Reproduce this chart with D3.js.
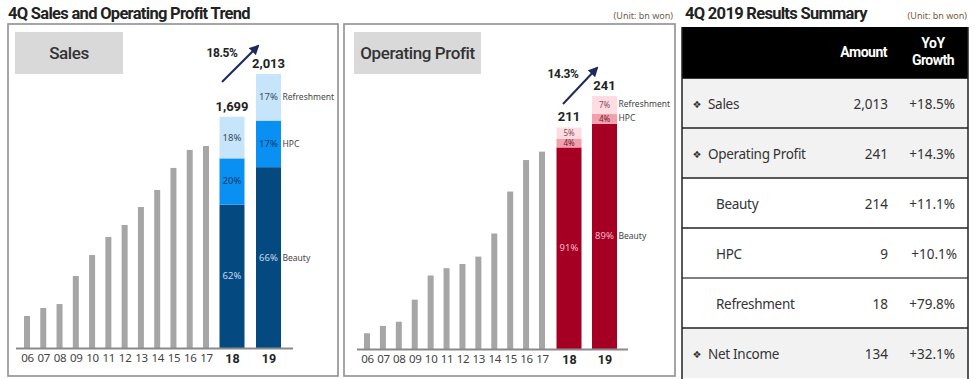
<!DOCTYPE html>
<html><head><meta charset="utf-8">
<script src="https://cdn.jsdelivr.net/npm/d3@7"></script>
<style>
html,body{margin:0;padding:0;background:#fff;}
svg{display:block;font-family:"Noto Sans",sans-serif;}
</style></head>
<body><svg id="c" width="975" height="379"></svg>
<script>
// ---- data ----
const years = ["06","07","08","09","10","11","12","13","14","15","16","17"];
const salesHist = [235,294,323,529,683,816,904,1036,1161,1323,1455,1484];
const opHist = [15,22,26,47,70,77,81,88,110,150,180,188];
const recentYears = ["18","19"];
const salesTotals = [1699,2013];
const opTotals = [211,241];
const segments = ["Beauty","HPC","Refreshment"];
const salesShares = [[62,20,18],[66,17,17]];
const opShares = [[91,4,5],[89,4,7]];
const salesGrowth = "18.5%";
const opGrowth = "14.3%";
const tableLabels = ["Sales","Operating Profit","Beauty","HPC","Refreshment","Net Income"];
const tableAmounts = ["2,013","241","214","9","18","134"];
const tableGrowth = ["+18.5%","+14.3%","+11.1%","+10.1%","+79.8%","+32.1%"];
const tableMain = [true,true,false,false,false,true];

const svg = d3.select("#c");
const titleFont = "Roboto";

// titles
svg.append("text").attr("x",8).attr("y",19).attr("font-size",16.5).attr("font-weight",700).attr("font-family",titleFont)
  .attr("fill","#222").attr("letter-spacing","-0.7").text("4Q Sales and Operating Profit Trend");
svg.append("text").attr("x",673).attr("y",19).attr("text-anchor","end").attr("font-size",9)
  .attr("fill","#6b5e52").text("(Unit: bn won)");
svg.append("text").attr("x",685).attr("y",19).attr("font-size",16.5).attr("font-weight",700).attr("font-family",titleFont)
  .attr("fill","#222").attr("letter-spacing","-0.7").text("4Q 2019 Results Summary");
svg.append("text").attr("x",967).attr("y",19).attr("text-anchor","end").attr("font-size",9)
  .attr("fill","#7a5a3a").text("(Unit: bn won)");

const defs = svg.append("defs");
defs.append("marker").attr("id","arr").attr("viewBox","0 0 10 10").attr("refX",8).attr("refY",5)
  .attr("markerWidth",5).attr("markerHeight",5).attr("orient","auto")
  .append("path").attr("d","M0,0L10,5L0,10z").attr("fill","#1f2a5c");

function panel(cfg){
  const g = svg.append("g").attr("transform",`translate(${cfg.x0},0)`);
  g.append("rect").attr("x",0).attr("y",24).attr("width",cfg.w).attr("height",352)
    .attr("fill","none").attr("stroke","#8f8f8f").attr("stroke-width",1.6);
  g.append("rect").attr("x",cfg.boxX).attr("y",32).attr("width",cfg.boxW).attr("height",42).attr("fill","#d9d9d9");
  g.append("text").attr("x",cfg.boxX+cfg.boxW/2).attr("y",59).attr("text-anchor","middle").attr("font-family",titleFont)
    .attr("font-size",17).attr("font-weight",500).attr("fill","#333").attr("letter-spacing","-0.4").text(cfg.title);

  const y = d3.scaleLinear().domain([0,cfg.yMax]).range([cfg.base,cfg.yTop]);
  const x = d3.scalePoint().domain(years).range(cfg.grayRange);
  const xr = d3.scalePoint().domain(recentYears).range(cfg.recentRange);

  g.selectAll(".gb").data(cfg.hist).join("rect")
    .attr("x",(d,i)=>x(years[i])-3).attr("width",6)
    .attr("y",d=>y(d)).attr("height",d=>cfg.base-y(d)).attr("fill","#a6a6a6");

  const bw = 25;
  cfg.totals.forEach((tot,i)=>{
    const cx = xr(recentYears[i]);
    let acc = 0;
    cfg.shares[i].forEach((s,j)=>{
      const v0 = acc, v1 = acc + tot*s/100; acc = v1;
      g.append("rect").attr("x",cx-bw/2).attr("width",bw).attr("y",y(v1)).attr("height",y(v0)-y(v1))
        .attr("fill",cfg.colors[j]);
      const my = (y(v0)+y(v1))/2;
      g.append("text").attr("x",cx).attr("y",my+3).attr("text-anchor","middle").attr("font-size",cfg.pctSize[j])
        .attr("fill",cfg.textColors[j]).text(s+"%");
      if(i===1){
        g.append("text").attr("x",cx+bw/2+1.5).attr("y",my+3+(cfg.labelShift[j]||0)).attr("font-size",8.5)
          .attr("fill","#444").text(segments[j]);
      }
    });
    g.append("text").attr("x",cx).attr("y",y(tot)-6).attr("text-anchor","middle").attr("font-size",13)
      .attr("font-weight",700).attr("font-family",titleFont).attr("fill","#222").text(d3.format(",")(tot));
  });

  // axis
  const axis = d3.axisBottom(x).tickSize(0).tickPadding(6);
  const ag = g.append("g").attr("transform",`translate(0,${cfg.base})`).call(axis);
  ag.select(".domain").remove();
  ag.selectAll("text").attr("font-size",11.5).attr("fill","#444").attr("font-family","Noto Sans").attr("letter-spacing","-0.3");
  const ag2 = g.append("g").attr("transform",`translate(0,${cfg.base})`).call(d3.axisBottom(xr).tickSize(0).tickPadding(6));
  ag2.select(".domain").remove();
  ag2.selectAll("text").attr("font-size",12.5).attr("font-weight",700).attr("fill","#222").attr("font-family",titleFont);
  g.append("line").attr("x1",cfg.axisX[0]).attr("x2",cfg.axisX[1]).attr("y1",cfg.base+0.5).attr("y2",cfg.base+0.5)
    .attr("stroke","#8a8a8a").attr("stroke-width",2);

  // growth arrow
  g.append("line").attr("x1",cfg.arrow[0]).attr("y1",cfg.arrow[1]).attr("x2",cfg.arrow[2]).attr("y2",cfg.arrow[3])
    .attr("stroke","#1f2a5c").attr("stroke-width",2).attr("marker-end","url(#arr)");
  g.append("text").attr("x",cfg.growthPos[0]).attr("y",cfg.growthPos[1]).attr("text-anchor","middle").attr("font-family",titleFont)
    .attr("font-size",12).attr("font-weight",700).attr("fill","#222").attr("letter-spacing","-0.4").text(cfg.growth);
}

panel({x0:8,w:330,boxX:7,boxW:108,title:"Sales",yMax:2013,base:348,yTop:74,pctSize:[9.5,9.5,9.5],
  hist:salesHist,totals:salesTotals,shares:salesShares,grayRange:[19,198],recentRange:[224,260.5],
  colors:["#044a80","#0a90f2","#c6e4fa"],textColors:["#c5d8ec","#123a66","#3a4a5a"],labelShift:[0,0,0],
  axisX:[8,285],arrow:[214,82,250,46],growthPos:[214,57],growth:salesGrowth});
panel({x0:344,w:331,boxX:10,boxW:127,title:"Operating Profit",yMax:241,yTop:96,base:349,pctSize:[9.5,8,8],
  hist:opHist,totals:opTotals,shares:opShares,grayRange:[23,198],recentRange:[225,260.5],
  colors:["#a50024","#f49fad","#fddde2"],textColors:["#f5b7c3","#6e1a2a","#8a4a58"],labelShift:[0,-1,-1],
  axisX:[13,284],arrow:[219,104,253,68],growthPos:[219,78],growth:opGrowth});

// table
const tx0 = 682, tx1 = 968, hy0 = 27, hy1 = 78, rh = 50;
const tg = svg.append("g");
tg.append("rect").attr("x",tx0).attr("y",hy0).attr("width",tx1-tx0).attr("height",hy1-hy0).attr("fill","#000");
tg.append("text").attr("x",887).attr("y",57).attr("text-anchor","end").attr("font-size",14).attr("font-weight",700)
  .attr("font-family",titleFont).attr("fill","#fff").attr("letter-spacing","-0.5").text("Amount");
tg.append("text").attr("x",933).attr("y",48).attr("text-anchor","middle").attr("font-size",14).attr("font-weight",700)
  .attr("font-family",titleFont).attr("fill","#fff").attr("letter-spacing","-0.5").text("YoY");
tg.append("text").attr("x",933).attr("y",65).attr("text-anchor","middle").attr("font-size",14).attr("font-weight",700)
  .attr("font-family",titleFont).attr("fill","#fff").attr("letter-spacing","-0.5").text("Growth");
const ry = d3.scaleBand().domain(tableLabels).range([hy1,hy1+rh*tableLabels.length]);
const rows = tg.selectAll(".row").data(tableLabels).join("g").attr("transform",d=>`translate(0,${ry(d)})`);
rows.append("rect").attr("x",tx0).attr("width",tx1-tx0).attr("height",ry.bandwidth())
  .attr("fill",(d,i)=>tableMain[i]?"#f2f2f2":"#fff");
rows.append("text").attr("x",(d,i)=>tableMain[i]?708:716).attr("y",31).attr("font-size",13.5).attr("fill","#333")
  .attr("letter-spacing","-0.3").text(d=>d);
rows.filter((d,i)=>tableMain[i]).append("text").attr("x",697).attr("y",30).attr("text-anchor","middle")
  .attr("font-size",10).attr("fill","#333").attr("font-family","DejaVu Sans").text("❖");
rows.append("text").attr("x",888).attr("y",31).attr("text-anchor","end").attr("font-size",13.5).attr("fill","#333")
  .text((d,i)=>tableAmounts[i]);
rows.append("text").attr("x",(d,i)=>i===3?957:955).attr("y",31).attr("text-anchor","end").attr("font-size",13.5).attr("fill","#333")
  .text((d,i)=>tableGrowth[i]);
tableLabels.forEach((d,i)=>{
  tg.append("line").attr("x1",tx0).attr("x2",tx1).attr("y1",ry(d)).attr("y2",ry(d))
    .attr("stroke",i===0?"#000":(i===4?"#555":"#222")).attr("stroke-width",1.5);
});
tg.append("line").attr("x1",tx0).attr("x2",tx0).attr("y1",hy0).attr("y2",379).attr("stroke","#222").attr("stroke-width",1.5);
tg.append("line").attr("x1",tx1).attr("x2",tx1).attr("y1",hy0).attr("y2",379).attr("stroke","#222").attr("stroke-width",1.5);
</script></body></html>
